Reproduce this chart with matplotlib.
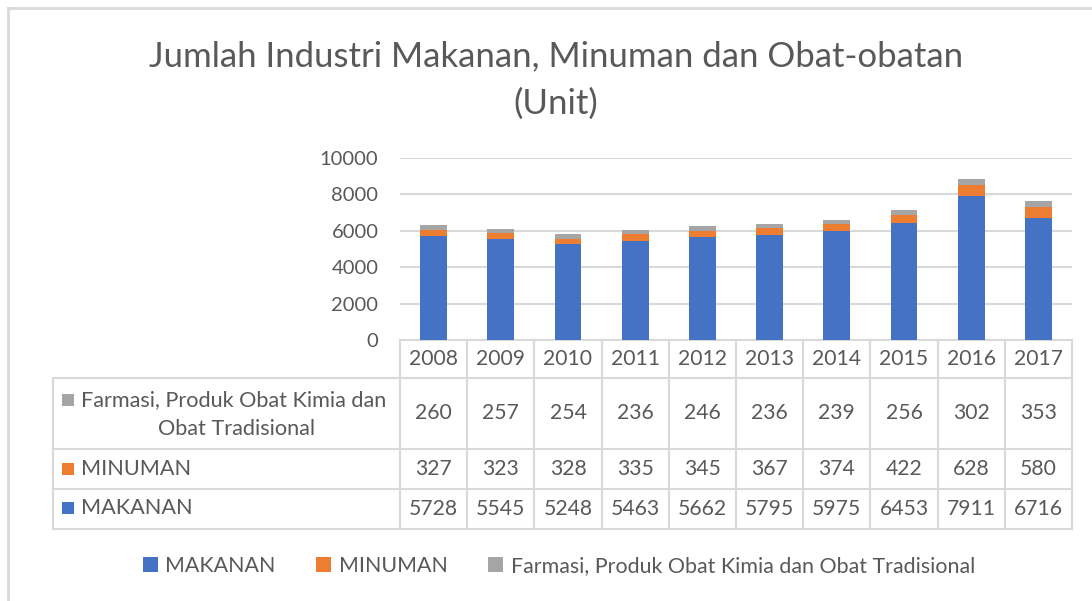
import numpy as np
import matplotlib.pyplot as plt
from matplotlib.lines import Line2D
from matplotlib.patches import Rectangle

years = ['2008', '2009', '2010', '2011', '2012', '2013', '2014', '2015', '2016', '2017']
makanan = [5728, 5545, 5248, 5463, 5662, 5795, 5975, 6453, 7911, 6716]
minuman = [327, 323, 328, 335, 345, 367, 374, 422, 628, 580]
farmasi = [260, 257, 254, 236, 246, 236, 239, 256, 302, 353]
series_names = ['MAKANAN', 'MINUMAN', 'Farmasi, Produk Obat Kimia dan Obat Tradisional']
colors = ['#4472C4', '#ED7D31', '#A5A5A5']

W, H = 1092, 601
TXT = '#595959'
GRID = '#d9d9d9'
FONT = 'Lato'

plt.rcParams['font.family'] = [FONT, 'DejaVu Sans']


def fx(px):
    return px / W


def fy(py):
    return 1 - py / H


fig = plt.figure(figsize=(W / 100, H / 100), dpi=100)

# outer chart border
fig.add_artist(Line2D([fx(8), 1], [fy(8), fy(8)], color=GRID, lw=2))
fig.add_artist(Line2D([fx(8), fx(8)], [fy(8), 0], color=GRID, lw=2))

fig.text(fx(556), fy(56), 'Jumlah Industri Makanan, Minuman dan Obat-obatan',
         ha='center', va='center', fontsize=25, color=TXT)
fig.text(fx(556), fy(104), '(Unit)', ha='center', va='center', fontsize=25, color=TXT)

left, right, top, bottom = 400, 1072, 158, 340
ax = fig.add_axes([fx(left), fy(bottom), fx(right - left), (bottom - top) / H])
x = np.arange(len(years))
b1 = ax.bar(x, makanan, width=0.4, color=colors[0], zorder=3)
b2 = ax.bar(x, minuman, width=0.4, bottom=makanan, color=colors[1], zorder=3)
b3 = ax.bar(x, farmasi, width=0.4, bottom=np.add(makanan, minuman), color=colors[2], zorder=3)
ax.set_xlim(-0.5, len(years) - 0.5)
ax.set_ylim(0, 10000)
ax.set_yticks(range(0, 10001, 2000))
ax.tick_params(axis='y', length=0, labelsize=14.5, labelcolor=TXT, pad=15.5)
ax.set_xticks([])
ax.grid(axis='y', color=GRID, lw=1.5, zorder=0)
for s in ax.spines.values():
    s.set_visible(False)

# data table below the axis
trans = ax.get_xaxis_transform()
ah = bottom - top


def ay(py):
    return (bottom - py) / ah


rows_y = [340, 378, 449, 489, 529]
lab_left = 53
lkw = dict(color=GRID, lw=1.5, clip_on=False)
for i, yy in enumerate(rows_y):
    if i == 0:
        ax.plot([-0.5, len(years) - 0.5], [ay(yy)] * 2, transform=trans, **lkw)
    else:
        fig.add_artist(Line2D([fx(lab_left), fx(right)], [fy(yy)] * 2, **lkw))
for k in range(len(years) + 1):
    ax.plot([k - 0.5] * 2, [ay(340), ay(529)], transform=trans, **lkw)
fig.add_artist(Line2D([fx(lab_left)] * 2, [fy(378), fy(529)], **lkw))

NUM = 15.2
for i, yr in enumerate(years):
    ax.text(i, ay(359), yr, transform=trans, ha='center', va='center', fontsize=NUM, color=TXT)
    ax.text(i, ay(413), str(farmasi[i]), transform=trans, ha='center', va='center', fontsize=NUM, color=TXT)
    ax.text(i, ay(469), str(minuman[i]), transform=trans, ha='center', va='center', fontsize=NUM, color=TXT)
    ax.text(i, ay(509), str(makanan[i]), transform=trans, ha='center', va='center', fontsize=NUM, color=TXT)


def row_marker(px, py, color):
    fig.add_artist(Rectangle((fx(px), fy(py + 6)), fx(12), 12 / H, color=color, lw=0))


LAB = 15.6
row_marker(62, 400, colors[2])
fig.text(fx(81), fy(400), 'Farmasi, Produk Obat Kimia dan', ha='left', va='center', fontsize=LAB, color=TXT)
fig.text(fx(237), fy(429), 'Obat Tradisional', ha='center', va='center', fontsize=LAB, color=TXT)
row_marker(62, 469, colors[1])
fig.text(fx(81), fy(469), 'MINUMAN', ha='left', va='center', fontsize=LAB, color=TXT)
row_marker(62, 508, colors[0])
fig.text(fx(81), fy(508), 'MAKANAN', ha='left', va='center', fontsize=LAB, color=TXT)

fig.legend([b1, b2, b3], series_names, loc='center', bbox_to_anchor=(fx(559), fy(566)),
           ncol=3, frameon=False, fontsize=15.4, labelcolor=TXT,
           handlelength=0.7, handleheight=0.7, handletextpad=0.35, columnspacing=1.9)

fig.savefig('out.png', dpi=100)
